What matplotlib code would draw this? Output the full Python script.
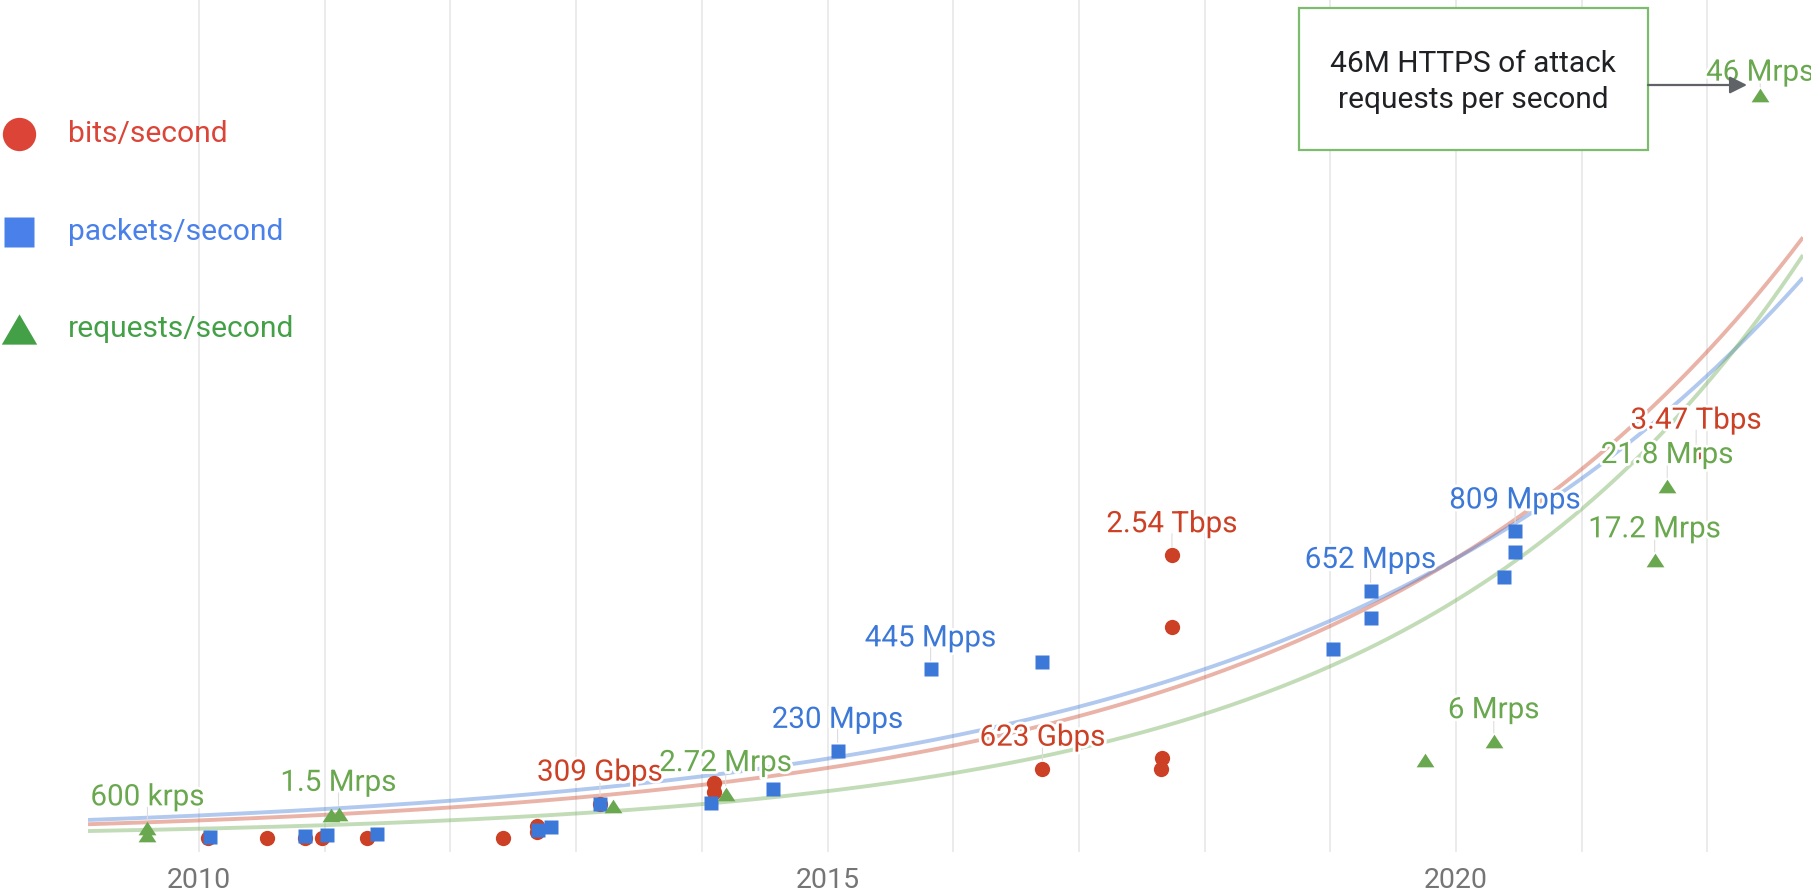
import numpy as np
import matplotlib.pyplot as plt
import matplotlib.patheffects as pe
from matplotlib.lines import Line2D
from matplotlib.patches import Rectangle, FancyArrowPatch

plt.rcParams['font.family'] = ['Roboto', 'DejaVu Sans']

# largest attacks per year, each series in its own unit
bits_year = [2010.07, 2010.54, 2010.84, 2010.98, 2011.34, 2012.42, 2012.69, 2012.69,
             2013.19, 2014.10, 2014.10, 2016.71, 2017.65, 2017.66, 2017.74, 2017.74, 2021.91]
bits_gbps = [2, 2, 2, 2, 4, 4, 57, 108, 309, 416, 491, 623, 617, 716, 1898, 2540, 3470]

pkts_year = [2010.09, 2010.84, 2011.02, 2011.42, 2012.70, 2012.80, 2013.19, 2014.07, 2014.57,
             2015.08, 2015.82, 2016.71, 2019.02, 2019.32, 2019.32, 2020.38, 2020.47, 2020.47]
pkts_mpps = [2, 5, 8, 11, 21, 30, 90, 93, 129, 230, 445, 463, 498, 580, 652, 689, 755, 809]

reqs_year = [2009.59, 2009.59, 2011.05, 2011.11, 2013.29, 2014.19, 2019.75, 2020.30,
             2021.58, 2021.68, 2022.42]
reqs_mrps = [0.2, 0.6, 1.4, 1.5, 2.0, 2.72, 4.8, 6, 17.2, 21.8, 46]

# how many native units make one step on the shared axis
GBPS_PER_UNIT = 145.0
MPPS_PER_UNIT = 42.6
MRPS_PER_UNIT = 1.0

# labelled points: series, index, text
bits_labels = [(8, '309 Gbps'), (11, '623 Gbps'), (15, '2.54 Tbps'), (16, '3.47 Tbps')]
pkts_labels = [(9, '230 Mpps'), (10, '445 Mpps'), (14, '652 Mpps'), (17, '809 Mpps')]
reqs_labels = [(1, '600 krps'), (3, '1.5 Mrps'), (5, '2.72 Mrps'), (7, '6 Mrps'),
               (8, '17.2 Mrps'), (9, '21.8 Mrps'), (10, '46 Mrps')]

# exponential trend lines: value at the right edge and growth rate per year
T_END = 2022.76
trend_bits = (37.2, 0.277)
trend_pkts = (34.7, 0.252)
trend_reqs = (36.1, 0.325)

RED, BLUE, GREEN = '#cc4125', '#3c78d8', '#6aa84f'
LEG_RED, LEG_BLUE, LEG_GREEN = '#db4437', '#4a80ea', '#43a047'

W, H = 1811, 893
fig = plt.figure(figsize=(W / 100, H / 100), dpi=100)
ax = fig.add_axes([88 / W, 41 / H, (1803 - 88) / W, 852 / H])
ax.set_xlim(2009.117, T_END)
ax.set_ylim(-0.87, 51.9)

def fpx(x, y):
    # pixel position -> figure fraction
    return x / W, 1 - y / H

tri = [(-1.3, -1), (1.3, -1), (0, 1)]

t = np.linspace(2009.117, T_END, 300)
for (a, b), col in [(trend_bits, RED), (trend_pkts, BLUE), (trend_reqs, GREEN)]:
    ax.plot(t, a * np.exp(b * (t - T_END)), color=col, alpha=0.4, lw=2.8,
            solid_capstyle='butt', zorder=2)

series = [
    (bits_year, np.array(bits_gbps) / GBPS_PER_UNIT, 'o', 11.0, RED, bits_labels),
    (pkts_year, np.array(pkts_mpps) / MPPS_PER_UNIT, 's', 10.3, BLUE, pkts_labels),
    (reqs_year, np.array(reqs_mrps) / MRPS_PER_UNIT, tri, 12.8, GREEN, reqs_labels),
]
for xs, ys, mk, ms, col, labels in series:
    ax.plot(xs, ys, ls='none', marker=mk, ms=ms, color=col, mec='none', zorder=3)
    for i, txt in labels:
        off = 10.5 if txt == '46 Mrps' else 16.5
        ax.annotate('', xy=(xs[i], ys[i]), xytext=(0, off - 1), textcoords='offset points',
                    arrowprops=dict(arrowstyle='-', color='#dddddd', lw=0.8,
                                    shrinkA=0, shrinkB=6), zorder=2.5)
        ax.annotate(txt, xy=(xs[i], ys[i]), xytext=(0, off), textcoords='offset points',
                    ha='center', va='baseline', fontsize=21.3, color=col, zorder=4,
                    annotation_clip=False,
                    path_effects=[pe.withStroke(linewidth=4, foreground='white')])

ax.set_xticks([2010, 2015, 2020])
ax.set_xticks(np.arange(2010, 2023), minor=True)
ax.set_yticks([])
ax.grid(True, which='both', axis='x', color='#e8e8e8', lw=1.2)
ax.tick_params(axis='x', which='both', length=0, pad=11, labelsize=20.5, labelcolor='#757575')
for s in ax.spines.values():
    s.set_visible(False)
ax.set_axisbelow(True)

# legend on the left
legend_rows = [('o', 24, LEG_RED, 'bits/second', 134),
               ('s', 22, LEG_BLUE, 'packets/second', 232),
               ([(-1.17, -1), (1.17, -1), (0, 1)], 25.5, LEG_GREEN, 'requests/second', 329)]
for mk, ms, col, txt, py in legend_rows:
    fig.add_artist(Line2D([19 / W], [1 - py / H], marker=mk, ms=ms, color=col,
                          mec='none', ls='none', transform=fig.transFigure))
    fig.text(68 / W, 1 - py / H, txt, color=col, fontsize=21.6, va='center', ha='left')

# callout box with arrow
x0, y0 = fpx(1299, 150)
x1, y1 = fpx(1648, 8)
fig.add_artist(Rectangle((x0, y0), x1 - x0, y1 - y0, transform=fig.transFigure,
                         fc='white', ec='#7dbb6e', lw=1.6, zorder=5))
fig.text(*fpx(1473, 82), '46M HTTPS of attack\nrequests per second', ha='center', va='center',
         fontsize=21.5, color='#202124', linespacing=1.35, zorder=6)
fig.add_artist(FancyArrowPatch(fpx(1648, 85), fpx(1747, 85), transform=fig.transFigure,
                               arrowstyle='-|>', mutation_scale=26, color='#5f6368', lw=1.6,
                               shrinkA=0, shrinkB=0, zorder=5))

fig.savefig('out.png', dpi=100)
